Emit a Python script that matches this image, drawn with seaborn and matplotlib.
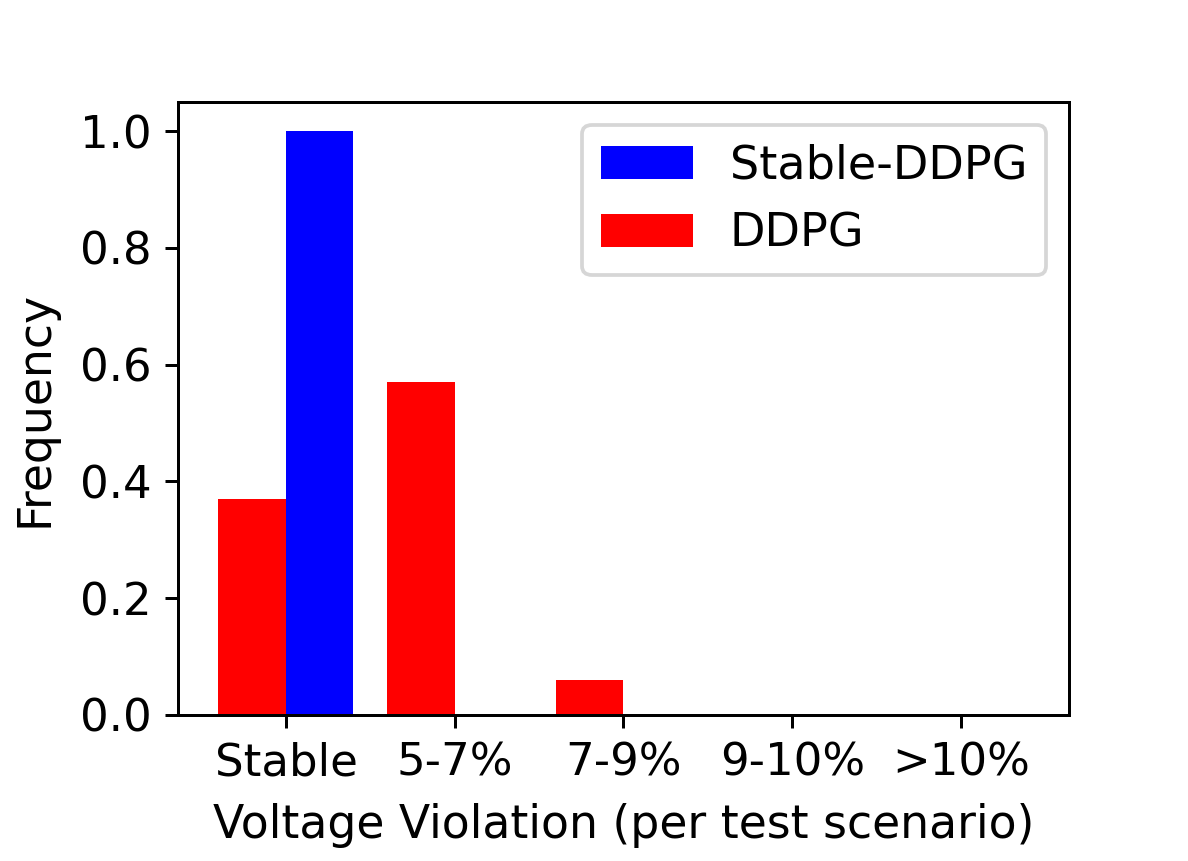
import matplotlib
matplotlib.use("Agg")
import matplotlib.pyplot as plt
import pandas as pd
import seaborn as sns

categories = ["Stable", "5-7%", "7-9%", "9-10%", ">10%"]
ddpg_freq = [0.37, 0.57, 0.06, 0.0, 0.0]
stable_ddpg_freq = [1.0, 0.0, 0.0, 0.0, 0.0]

plt.rcParams["font.size"] = 12
plt.rcParams["font.family"] = ["DejaVu Sans"]


def main():
    df = pd.DataFrame({
        "category": categories * 2,
        "freq": ddpg_freq + stable_ddpg_freq,
        "method": ["DDPG"] * len(categories) + ["Stable-DDPG"] * len(categories),
    })

    fig = plt.figure(figsize=(4.4, 3.1889), dpi=270)
    ax = fig.add_axes([0.1498, 0.1696, 0.75, 0.7119])

    sns.barplot(
        data=df,
        x="category",
        y="freq",
        hue="method",
        hue_order=["DDPG", "Stable-DDPG"],
        order=categories,
        palette={"DDPG": "red", "Stable-DDPG": "blue"},
        saturation=1,
        width=0.8,
        errorbar=None,
        ax=ax,
    )

    ax.set_xlim(-0.64, 4.64)
    ax.set_ylim(0, 1.05)
    ax.set_xlabel("Voltage Violation (per test scenario)", fontsize=12.2, labelpad=5)
    ax.set_ylabel("Frequency", fontsize=12.2, labelpad=6)

    handles, labels = ax.get_legend_handles_labels()
    order = [labels.index("Stable-DDPG"), labels.index("DDPG")]
    ax.legend([handles[i] for i in order], [labels[i] for i in order], loc="upper right", fontsize=12.3)

    fig.savefig("out.png", dpi=270)
    plt.close(fig)


if __name__ == "__main__":
    main()
